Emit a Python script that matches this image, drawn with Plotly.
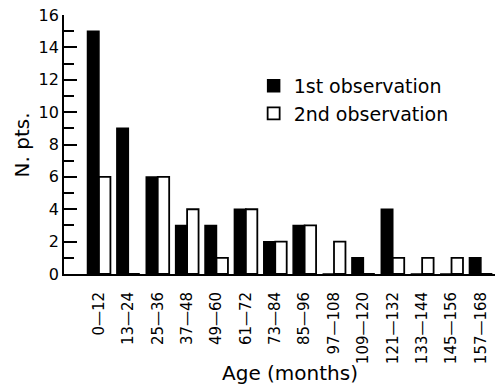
import plotly.graph_objects as go

categories = ["0—12", "13—24", "25—36", "37—48", "49—60", "61—72", "73—84",
              "85—96", "97—108", "109—120", "121—132", "133—144", "145—156", "157—168"]
first_obs = [15, 9, 6, 3, 3, 4, 2, 3, 0, 1, 4, 0, 0, 1]
second_obs = [6, 0, 6, 4, 1, 4, 2, 3, 2, 0, 1, 1, 1, 0]
y_ticks = [0, 2, 4, 6, 8, 10, 12, 14, 16]

FONT = "DejaVu Sans"

fig = go.Figure()
fig.add_trace(go.Bar(x=list(range(len(categories))), y=first_obs, name="1st observation",
                     marker=dict(color="black", line=dict(color="black", width=1.5))))
fig.add_trace(go.Bar(x=list(range(len(categories))), y=second_obs, name="2nd observation",
                     marker=dict(color="white", line=dict(color="black", width=1.8))))

fig.update_layout(
    width=498, height=387,
    margin=dict(l=64, r=3, t=15, b=113),
    paper_bgcolor="white", plot_bgcolor="white",
    barmode="group", bargap=0.22, bargroupgap=0,
    font=dict(family=FONT, color="black"),
    showlegend=True,
    legend=dict(x=0.44, y=0.80, xanchor="left", yanchor="top",
                font=dict(family=FONT, size=19, color="black"),
                bgcolor="rgba(0,0,0,0)", tracegroupgap=0),
    xaxis=dict(
        range=[-1.19, 13.48],
        tickmode="array", tickvals=list(range(len(categories))), ticktext=categories,
        tickangle=-90, tickfont=dict(family=FONT, size=15),
        ticks="", ticklabelstandoff=10,
        showline=True, linecolor="black", linewidth=1.8,
        showgrid=False, zeroline=False,
    ),
    yaxis=dict(
        range=[0, 16],
        tickmode="array", tickvals=y_ticks,
        ticks="inside", ticklen=13, tickwidth=1.5, tickcolor="black",
        minor=dict(dtick=1, ticks="inside", ticklen=10, tickwidth=1.5, tickcolor="black"),
        tickfont=dict(family=FONT, size=16),
        showline=True, linecolor="black", linewidth=1.8,
        showgrid=False, zeroline=False,
    ),
    annotations=[
        dict(text="N. pts.", xref="paper", yref="paper", x=-0.0975, y=0.5,
             xanchor="center", yanchor="middle", textangle=-90, showarrow=False,
             font=dict(family=FONT, size=20)),
        dict(text="Age (months)", xref="x", yref="paper", x=6.5, y=-0.382,
             xanchor="center", yanchor="middle", showarrow=False,
             font=dict(family=FONT, size=20)),
    ],
)

fig.write_html("out.html", config={"displayModeBar": False},
               post_script="document.body.style.margin='0';")
